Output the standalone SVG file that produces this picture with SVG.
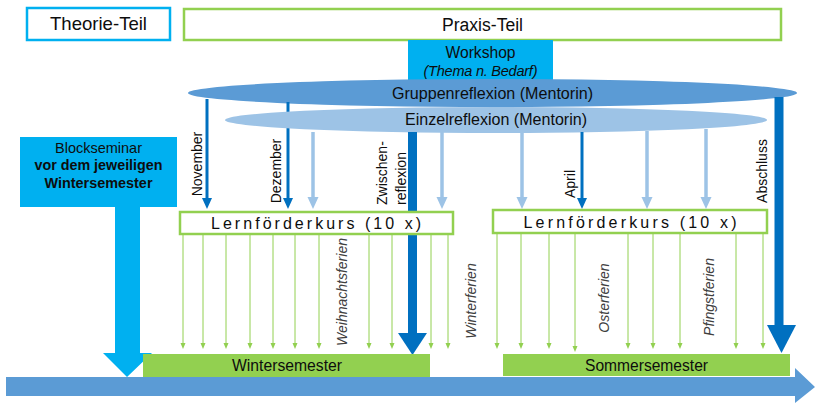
<svg xmlns="http://www.w3.org/2000/svg" width="815" height="403" viewBox="0 0 815 403">
<style>
text{font-family:"Liberation Sans",Arial,sans-serif;fill:#0d0d0d}
.lbl{font-size:14px}
.it{font-size:14px;font-style:italic;fill:#404040}
.thin{stroke:#92d050;stroke-width:1;fill:none}
.dark{stroke:#0070c0;stroke-width:3;fill:none}
.light{stroke:#9dc3e6;stroke-width:3.5;fill:none}
.thick{stroke:#0070c0;stroke-width:9;fill:none}
.gbox{fill:#fff;stroke:#92d050;stroke-width:2.5}
</style>
<defs>
<filter id="blur" x="-10%" y="-300%" width="120%" height="700%"><feGaussianBlur stdDeviation="2.5"/></filter>
</defs>

<g id="timeline">
<path d="M6,377 H795 V368 L815,387 L795,403 V396 H6 z" fill="#5b9bd5"/>
</g>

<g id="theorie">
<rect x="27" y="8" width="143" height="32" fill="#fff" stroke="#00b0f0" stroke-width="2.5"/>
<text x="98.5" y="29.5" font-size="18.5" text-anchor="middle" textLength="97" lengthAdjust="spacingAndGlyphs">Theorie-Teil</text>
</g>

<g id="praxis">
<rect x="184" y="9" width="597" height="31" fill="#fff" stroke="#92d050" stroke-width="2.5"/>
<text x="482.5" y="30.5" font-size="18" text-anchor="middle" textLength="81" lengthAdjust="spacingAndGlyphs">Praxis-Teil</text>
</g>

<g id="workshop">
<rect x="408" y="40" width="145" height="42" fill="#00b0f0"/>
<text x="480.5" y="58" font-size="16" text-anchor="middle" textLength="70" lengthAdjust="spacingAndGlyphs">Workshop</text>
<text x="480.5" y="76" font-size="14.5" font-style="italic" text-anchor="middle" textLength="114" lengthAdjust="spacing">(Thema n. Bedarf)</text>
</g>

<g id="blockseminar">
<path d="M20,137 H177 V207 H140 V353 H152 L127,377 L103,353 H115 V207 H20 z" fill="#00b0f0"/>
<text x="98.5" y="153" font-size="15" text-anchor="middle" textLength="87" lengthAdjust="spacingAndGlyphs">Blockseminar</text>
<text x="98.5" y="170" font-size="15" font-weight="bold" text-anchor="middle" textLength="128" lengthAdjust="spacingAndGlyphs">vor dem jeweiligen</text>
<text x="98.5" y="188" font-size="15" font-weight="bold" text-anchor="middle" textLength="108" lengthAdjust="spacingAndGlyphs">Wintersemester</text>
</g>

<g id="gruppenreflexion">
<ellipse cx="492.5" cy="93" rx="304.5" ry="14" fill="#5b9bd5"/>
<text x="492.5" y="99" font-size="16" text-anchor="middle" textLength="201" lengthAdjust="spacingAndGlyphs">Gruppenreflexion (Mentorin)</text>
</g>

<g id="connectors">
<line class="dark" x1="207" y1="99" x2="207" y2="199"/>
<path d="M202,198 L212,198 L207,209 z" fill="#0070c0"/>
<line class="dark" x1="288" y1="102" x2="288" y2="199"/>
<path d="M283,198 L293,198 L288,209 z" fill="#0070c0"/>
<line class="thick" x1="779" y1="97" x2="779" y2="327"/>
<path d="M767,325 L796,325 L781.5,353 z" fill="#0070c0"/>
</g>

<g id="einzelreflexion">
<ellipse cx="496" cy="120" rx="271" ry="13" fill="#9dc3e6"/>
<text x="496" y="125" font-size="16" text-anchor="middle" textLength="182" lengthAdjust="spacingAndGlyphs">Einzelreflexion (Mentorin)</text>
</g>

<g id="connectors2">
<line class="light" x1="313" y1="132" x2="313" y2="199"/>
<path d="M307.5,197 L318.5,197 L313,209 z" fill="#9dc3e6"/>
<line class="light" x1="442" y1="132" x2="442" y2="199"/>
<path d="M436.5,197 L447.5,197 L442,209 z" fill="#9dc3e6"/>
<line class="light" x1="522" y1="132" x2="522" y2="199"/>
<path d="M516.5,197 L527.5,197 L522,209 z" fill="#9dc3e6"/>
<line class="light" x1="647" y1="131" x2="647" y2="199"/>
<path d="M641.5,197 L652.5,197 L647,209 z" fill="#9dc3e6"/>
<line class="light" x1="706" y1="129" x2="706" y2="199"/>
<path d="M700.5,197 L711.5,197 L706,209 z" fill="#9dc3e6"/>
<line class="dark" x1="582" y1="132" x2="582" y2="199"/>
<path d="M577,198 L587,198 L582,209 z" fill="#0070c0"/>
<line class="thick" x1="412.5" y1="132" x2="412.5" y2="335"/>
<path d="M398,333 L427,333 L412.5,355 z" fill="#0070c0"/>
</g>

<g id="labels">
<text class="lbl" transform="translate(202 164) rotate(-90)" text-anchor="middle">November</text>
<text class="lbl" transform="translate(281 171) rotate(-90)" text-anchor="middle">Dezember</text>
<text class="lbl" transform="translate(387 205) rotate(-90)">Zwischen-</text>
<text class="lbl" transform="translate(406 205) rotate(-90)">reflexion</text>
<text class="lbl" transform="translate(575 184) rotate(-90)" text-anchor="middle">April</text>
<text class="lbl" transform="translate(767 171) rotate(-90)" text-anchor="middle">Abschluss</text>
</g>

<g id="semesters">
<rect x="143" y="354" width="287" height="23" fill="#92d050"/>
<text x="287" y="371" font-size="16" text-anchor="middle" textLength="110" lengthAdjust="spacingAndGlyphs">Wintersemester</text>
<rect x="503" y="354" width="287" height="22" fill="#92d050"/>
<text x="646.5" y="371" font-size="16" text-anchor="middle" textLength="123" lengthAdjust="spacingAndGlyphs">Sommersemester</text>
</g>

<g id="shadows">
<line x1="192" y1="259" x2="440" y2="259" stroke="#cfcfcf" stroke-width="6" filter="url(#blur)"/>
<line x1="507" y1="258" x2="752" y2="258" stroke="#cfcfcf" stroke-width="6" filter="url(#blur)"/>
</g>

<g id="kurs-arrows">
<g class="thin">
<line x1="183" y1="234" x2="183" y2="344"/><line x1="203" y1="234" x2="203" y2="344"/>
<line x1="226" y1="234" x2="226" y2="344"/><line x1="250" y1="234" x2="250" y2="344"/>
<line x1="273" y1="234" x2="273" y2="344"/><line x1="295" y1="234" x2="295" y2="344"/>
<line x1="319" y1="234" x2="319" y2="344"/><line x1="369" y1="234" x2="369" y2="344"/>
<line x1="392" y1="234" x2="392" y2="344"/><line x1="431" y1="234" x2="431" y2="344"/>
<line x1="448" y1="234" x2="448" y2="344"/>
<line x1="497" y1="233" x2="497" y2="344"/><line x1="521" y1="233" x2="521" y2="344"/>
<line x1="549" y1="233" x2="549" y2="344"/><line x1="575" y1="233" x2="575" y2="347"/>
<line x1="628" y1="233" x2="628" y2="344"/><line x1="653" y1="233" x2="653" y2="344"/>
<line x1="680" y1="233" x2="680" y2="344"/><line x1="736" y1="233" x2="736" y2="344"/>
<line x1="763" y1="233" x2="763" y2="344"/>
</g>
<g fill="#92d050">
<path d="M180.5,343 h5 l-2.5,6 z"/><path d="M200.5,343 h5 l-2.5,6 z"/>
<path d="M223.5,343 h5 l-2.5,6 z"/><path d="M247.5,343 h5 l-2.5,6 z"/>
<path d="M270.5,343 h5 l-2.5,6 z"/><path d="M292.5,343 h5 l-2.5,6 z"/>
<path d="M316.5,343 h5 l-2.5,6 z"/><path d="M366.5,343 h5 l-2.5,6 z"/>
<path d="M389.5,343 h5 l-2.5,6 z"/><path d="M428.5,343 h5 l-2.5,6 z"/>
<path d="M445.5,343 h5 l-2.5,6 z"/>
<path d="M494.5,343 h5 l-2.5,6 z"/><path d="M518.5,343 h5 l-2.5,6 z"/>
<path d="M546.5,343 h5 l-2.5,6 z"/><path d="M572.5,346 h5 l-2.5,6 z"/>
<path d="M625.5,343 h5 l-2.5,6 z"/><path d="M650.5,343 h5 l-2.5,6 z"/>
<path d="M677.5,343 h5 l-2.5,6 z"/><path d="M733.5,343 h5 l-2.5,6 z"/>
<path d="M760.5,343 h5 l-2.5,6 z"/>
</g>
</g>

<g id="kurs1">
<rect class="gbox" x="180" y="212" width="273" height="22"/>
<text x="316" y="229" font-size="16" text-anchor="middle" textLength="210" lengthAdjust="spacing">Lernförderkurs (10 x)</text>
</g>
<g id="kurs2">
<rect class="gbox" x="493" y="210" width="274" height="23"/>
<text x="630" y="227.5" font-size="16" text-anchor="middle" textLength="213" lengthAdjust="spacing">Lernförderkurs (10 x)</text>
</g>

<g id="ferien">
<text class="it" transform="translate(347 292) rotate(-90)" text-anchor="middle">Weihnachtsferien</text>
<text class="it" transform="translate(476 301) rotate(-90)" text-anchor="middle">Winterferien</text>
<text class="it" transform="translate(609 298) rotate(-90)" text-anchor="middle">Osterferien</text>
<text class="it" transform="translate(714 297) rotate(-90)" text-anchor="middle">Pfingstferien</text>
</g>
</svg>
